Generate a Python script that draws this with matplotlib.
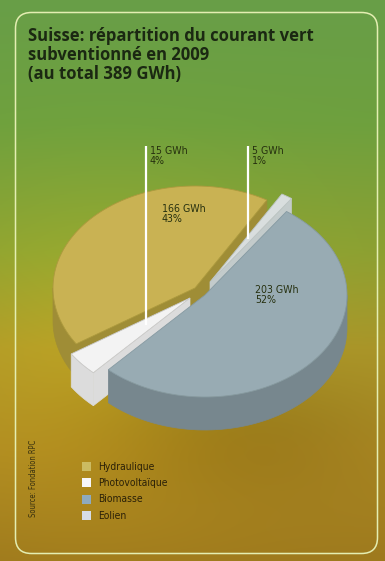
import numpy as np
import matplotlib
matplotlib.use("Agg")
import matplotlib.pyplot as plt
from matplotlib.patches import Polygon, Rectangle, FancyBboxPatch

# subsidised green electricity, Switzerland 2009 (GWh)
CATEGORIES = ["Hydraulique", "Photovoltaïque", "Biomasse", "Eolien"]
GWH = [166, 15, 203, 5]

TOP_COLORS = ["#c9b253", "#f3f3f3", "#98abb3", "#d9dede"]
WALL_COLORS = ["#9f8d36", "#dcdcdc", "#77878e", "#c3cbcb"]
EDGE_COLORS = ["#ad9a3e", "#c9c9c9", "#869aa2", "#bcc4c4"]
LEGEND_COLORS = ["#cbbb62", "#f6f6fa", "#8eaabf", "#d6dde6"]

W, H = 385, 561
CX, CY = 195, 288          # pie centre (px)
RX, RY = 142, 102          # top ellipse radii (px)
DEPTH = 33                 # thickness of the disc (px)
START = 59.6               # angle of the first wedge edge (deg)
OFFSETS = [(0, 0), (-5, 10), (10, 7), (15, -6)]   # exploded slices (px)
DRAW_ORDER = [0, 3, 1, 2]

NARROW = dict(family="DejaVu Sans", fontstretch="condensed")


def make_background():
    yy, xx = np.mgrid[0:H, 0:W].astype(float)
    t = yy / (H - 1)
    pos = [0.0, 0.22, 0.45, 0.62, 0.8, 1.0]
    r = np.interp(t, pos, [104, 110, 140, 170, 172, 158])
    g = np.interp(t, pos, [158, 160, 160, 150, 138, 122])
    b = np.interp(t, pos, [72, 62, 50, 42, 36, 30])
    img = np.stack([r, g, b], axis=-1)
    # warm glow on the left half, darker around the base of the pie
    glow = np.exp(-(((xx - 110) / 170) ** 2 + ((yy - 360) / 170) ** 2))
    img += glow[..., None] * np.array([18, 14, -4])
    shade = np.exp(-(((xx - 230) / 150) ** 2 + ((yy - 430) / 70) ** 2))
    img -= shade[..., None] * np.array([22, 20, 8])
    return np.clip(img, 0, 255) / 255


def pt(a, r, off, z=0.0):
    rad = np.radians(a)
    return (CX + off[0] + r * RX * np.cos(rad),
            CY + off[1] - r * RY * np.sin(rad) + z)


def arc(a0, a1, off, z=0.0):
    angs = np.linspace(a0, a1, max(2, int(abs(a1 - a0) / 2) + 2))
    return [pt(a, 1.0, off, z) for a in angs]


def draw_slice(ax, a0, a1, off, top, wall, edge):
    # radial walls facing the viewer
    for a, visible in ((a0, np.cos(np.radians(a0)) > 0),
                       (a1, np.cos(np.radians(a1)) < 0)):
        if visible:
            c, o = pt(a, 0, off), pt(a, 1, off)
            quad = [c, o, (o[0], o[1] + DEPTH), (c[0], c[1] + DEPTH)]
            ax.add_patch(Polygon(quad, closed=True, fc=wall, ec=wall,
                                 lw=0.5, zorder=3))
    # curved outer wall, front half only
    for lo, hi in ((180, 360), (540, 720)):
        s, e = max(a0, lo), min(a1, hi)
        if e > s:
            upper = arc(s, e, off)
            lower = arc(s, e, off, DEPTH)[::-1]
            ax.add_patch(Polygon(upper + lower, closed=True, fc=wall,
                                 ec=wall, lw=0.5, zorder=3))
    face = [pt(a0, 0, off)] + arc(a0, a1, off)
    ax.add_patch(Polygon(face, closed=True, fc=top, ec=edge, lw=0.6,
                         zorder=3))


fig = plt.figure(figsize=(W / 100, H / 100), dpi=100)
ax = fig.add_axes([0, 0, 1, 1])
ax.set_xlim(0, W)
ax.set_ylim(H, 0)
ax.axis("off")

ax.imshow(make_background(), extent=(0, W, H, 0), zorder=0)
ax.add_patch(FancyBboxPatch((15.5, 12.5), 362, 541,
                            boxstyle="round,pad=0,rounding_size=16",
                            fill=False, ec="#e4eeb2", lw=1.1, zorder=1))

total = sum(GWH)
ax.text(28, 27, "Suisse: répartition du courant vert\n"
        f"subventionné en 2009\n(au total {total} GWh)",
        ha="left", va="top", fontsize=12.0, fontweight="bold",
        family=["Open Sans", "DejaVu Sans"], color="#1b2812",
        linespacing=1.08, zorder=5)

fracs = np.array(GWH) / total
edges = START + np.concatenate([[0], np.cumsum(fracs) * 360])
for i in DRAW_ORDER:
    draw_slice(ax, edges[i], edges[i + 1], OFFSETS[i],
               TOP_COLORS[i], WALL_COLORS[i], EDGE_COLORS[i])

label_font = dict(fontsize=7.6, color="#26300f", va="top", ha="left",
                  zorder=6, linespacing=1.0, **NARROW)

# large slices: label on the wedge itself
inside_pos = {0: (162, 204), 2: (255, 285)}
# small slices: white leader line from the label down onto the wedge
leader_r = {1: 0.41, 3: 0.5}
for i, value in enumerate(GWH):
    txt = f"{value} GWh\n{round(fracs[i] * 100)}%"
    if i in inside_pos:
        ax.text(*inside_pos[i], txt, **label_font)
    else:
        mid = (edges[i] + edges[i + 1]) / 2
        x, y = pt(mid, leader_r[i], OFFSETS[i])
        ax.plot([x, x], [146, y], color="white", lw=1.6,
                solid_capstyle="butt", zorder=5)
        ax.text(x + 4, 146, txt, **label_font)

# legend
for i, name in enumerate(CATEGORIES):
    y = 462 + i * 16.3
    ax.add_patch(Rectangle((82, y), 9, 9, fc=LEGEND_COLORS[i], ec="none",
                           zorder=5))
    ax.text(98, y + 4.8, name, ha="left", va="center", fontsize=7.4,
            color="#2a2008", zorder=5, **NARROW)

ax.text(33, 517, "Source: Fondation RPC", rotation=90, ha="center",
        va="bottom", fontsize=5.5, color="#3a3210", zorder=5, **NARROW)

fig.savefig("out.png", dpi=100)
plt.close(fig)
